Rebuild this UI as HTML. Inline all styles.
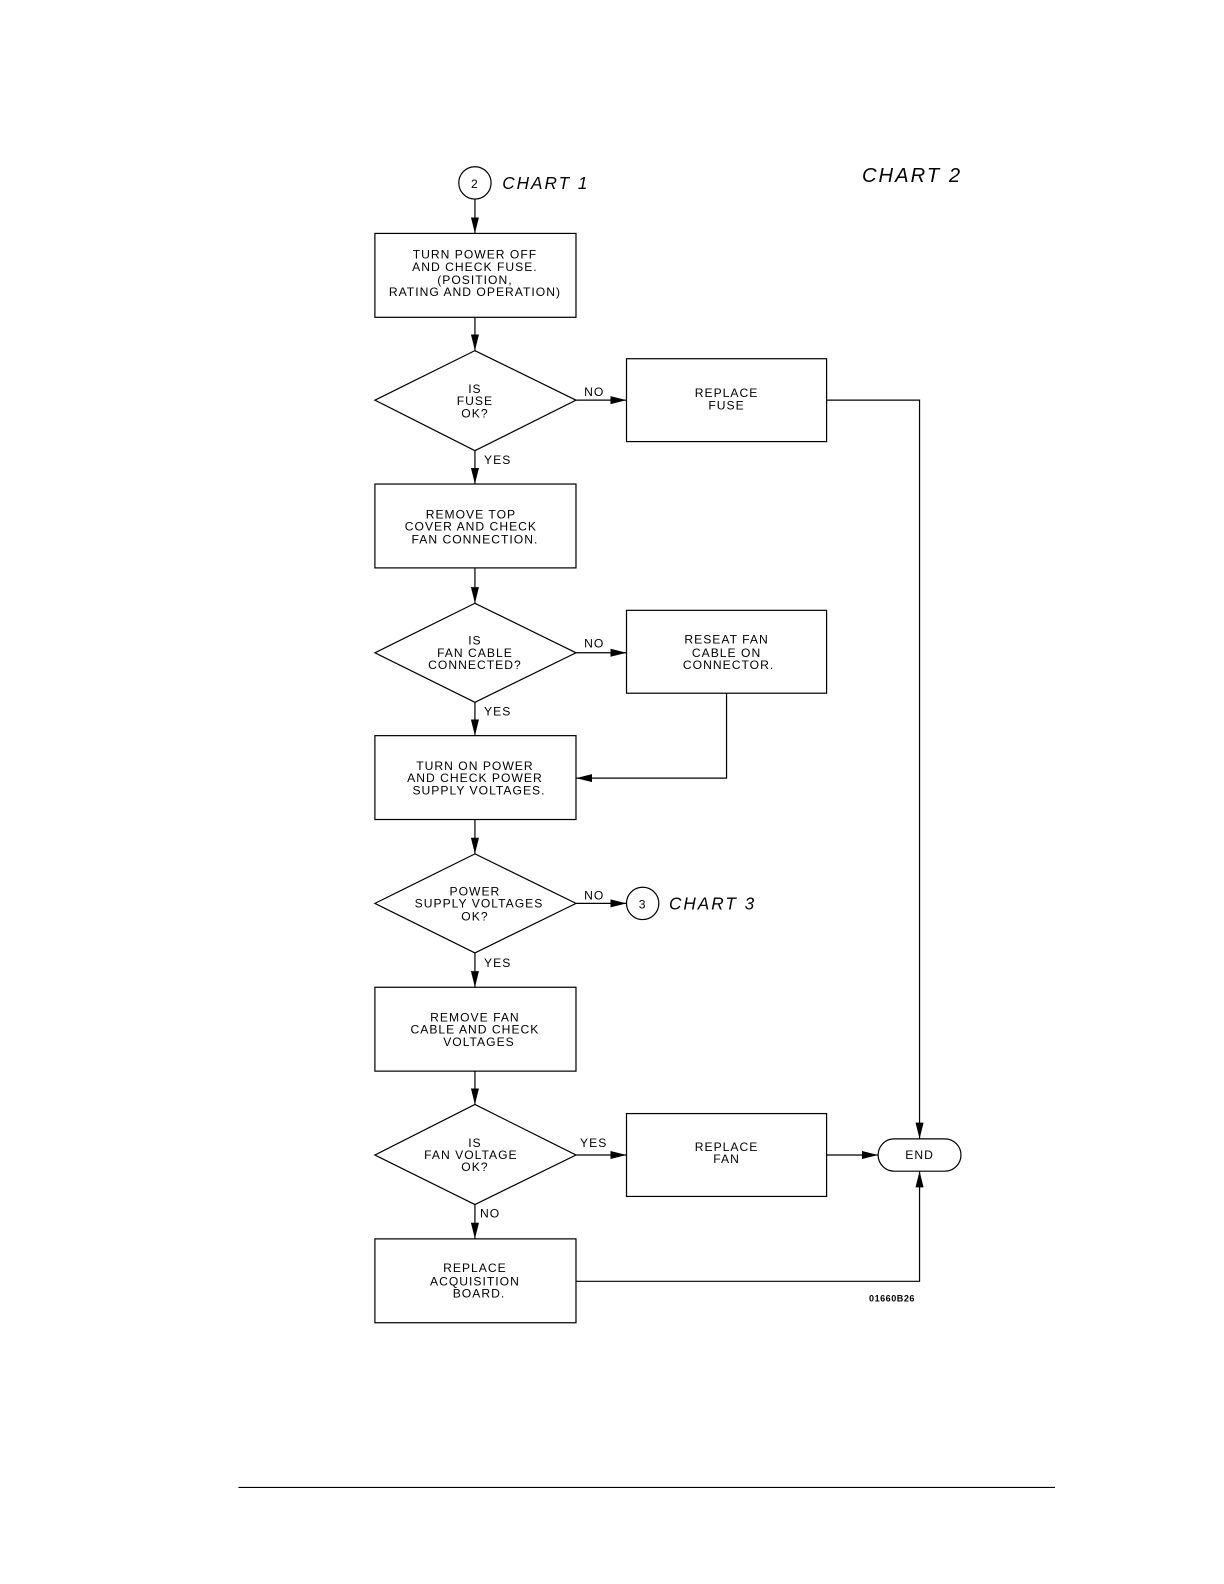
<!DOCTYPE html>
<html><head><meta charset="utf-8"><style>
html,body{margin:0;padding:0;background:#fff;width:1224px;height:1584px;overflow:hidden}
svg{display:block}
svg text{font-family:"Liberation Sans",sans-serif;fill:#000}
.t{font-size:12px;letter-spacing:1px;text-anchor:middle}
.l{font-size:12px;letter-spacing:1px}
.i{font-style:italic;font-size:17px;letter-spacing:2px}
</style></head><body>
<svg width="1224" height="1584" viewBox="0 0 1224 1584" xmlns="http://www.w3.org/2000/svg">
<defs><marker id="a" markerWidth="16" markerHeight="8" refX="16" refY="4" orient="auto" markerUnits="userSpaceOnUse"><path d="M0,0 L16,4 L0,8 z" fill="#000"/></marker></defs>
<g transform="scale(1.0105)">
<g stroke="#000" stroke-width="1.2" fill="none">
<circle cx="470" cy="181" r="16"/>
<line x1="470" y1="197" x2="470" y2="231" marker-end="url(#a)"/>
<rect x="371" y="231" width="199" height="83"/>
<line x1="470" y1="314" x2="470" y2="347" marker-end="url(#a)"/>
<polygon points="371,396 470,347 570,396 470,446"/>
<line x1="570" y1="396" x2="620" y2="396" marker-end="url(#a)"/>
<rect x="620" y="355" width="198" height="82"/>
<polyline points="818,396 910,396 910,1127" marker-end="url(#a)"/>
<line x1="470" y1="446" x2="470" y2="479" marker-end="url(#a)"/>
<rect x="371" y="479" width="199" height="83"/>
<line x1="470" y1="562" x2="470" y2="597" marker-end="url(#a)"/>
<polygon points="371,646 470,597 570,646 470,695"/>
<line x1="570" y1="646" x2="620" y2="646" marker-end="url(#a)"/>
<rect x="620" y="604" width="198" height="82"/>
<polyline points="719,686 719,770 570,770" marker-end="url(#a)"/>
<line x1="470" y1="695" x2="470" y2="728" marker-end="url(#a)"/>
<rect x="371" y="728" width="199" height="83"/>
<line x1="470" y1="811" x2="470" y2="845" marker-end="url(#a)"/>
<polygon points="371,894 470,845 570,894 470,943"/>
<line x1="570" y1="894" x2="620" y2="894" marker-end="url(#a)"/>
<circle cx="636" cy="894" r="16"/>
<line x1="470" y1="943" x2="470" y2="977" marker-end="url(#a)"/>
<rect x="371" y="977" width="199" height="83"/>
<line x1="470" y1="1060" x2="470" y2="1093" marker-end="url(#a)"/>
<polygon points="371,1143 470,1093 570,1143 470,1192"/>
<line x1="570" y1="1143" x2="620" y2="1143" marker-end="url(#a)"/>
<rect x="620" y="1102" width="198" height="82"/>
<line x1="818" y1="1143" x2="869" y2="1143" marker-end="url(#a)"/>
<rect x="869" y="1127" width="82" height="32" rx="16"/>
<line x1="470" y1="1192" x2="470" y2="1226" marker-end="url(#a)"/>
<rect x="371" y="1226" width="199" height="83"/>
<polyline points="570,1268 910,1268 910,1159" marker-end="url(#a)"/>
<line x1="236" y1="1472" x2="1044" y2="1472"/>
</g>
<text class="t" x="470" y="186">2</text>
<text class="i" x="497" y="187">CHART 1</text>
<text class="i" x="853" y="180" style="font-size:20px">CHART 2</text>
<text class="t" x="470" y="256">TURN POWER OFF</text>
<text class="t" x="470" y="268">AND CHECK FUSE.</text>
<text class="t" x="470" y="281">(POSITION,</text>
<text class="t" x="470" y="293">RATING AND OPERATION)</text>
<text class="t" x="470" y="389">IS</text>
<text class="t" x="470" y="401">FUSE</text>
<text class="t" x="470" y="413">OK?</text>
<text class="l" x="578" y="392">NO</text>
<text class="t" x="719" y="393">REPLACE</text>
<text class="t" x="719" y="405">FUSE</text>
<text class="l" x="479" y="459">YES</text>
<text class="t" x="466" y="513">REMOVE TOP</text>
<text class="t" x="466" y="525">COVER AND CHECK</text>
<text class="t" x="470" y="538">FAN CONNECTION.</text>
<text class="t" x="470" y="638">IS</text>
<text class="t" x="470" y="650">FAN CABLE</text>
<text class="t" x="470" y="662">CONNECTED?</text>
<text class="l" x="578" y="641">NO</text>
<text class="t" x="719" y="637">RESEAT FAN</text>
<text class="t" x="719" y="650">CABLE ON</text>
<text class="t" x="721" y="662">CONNECTOR.</text>
<text class="l" x="479" y="708">YES</text>
<text class="t" x="470" y="762">TURN ON POWER</text>
<text class="t" x="470" y="774">AND CHECK POWER</text>
<text class="t" x="474" y="786">SUPPLY VOLTAGES.</text>
<text class="t" x="470" y="886">POWER</text>
<text class="t" x="474" y="898">SUPPLY VOLTAGES</text>
<text class="t" x="470" y="911">OK?</text>
<text class="l" x="578" y="890">NO</text>
<text class="t" x="636" y="899">3</text>
<text class="i" x="662" y="900">CHART 3</text>
<text class="l" x="479" y="957">YES</text>
<text class="t" x="470" y="1011">REMOVE FAN</text>
<text class="t" x="470" y="1023">CABLE AND CHECK</text>
<text class="t" x="474" y="1035">VOLTAGES</text>
<text class="t" x="470" y="1135">IS</text>
<text class="t" x="466" y="1147">FAN VOLTAGE</text>
<text class="t" x="470" y="1159">OK?</text>
<text class="l" x="574" y="1135">YES</text>
<text class="t" x="719" y="1139">REPLACE</text>
<text class="t" x="719" y="1151">FAN</text>
<text class="t" x="910" y="1147">END</text>
<text class="l" x="475" y="1205">NO</text>
<text class="t" x="470" y="1259">REPLACE</text>
<text class="t" x="470" y="1272">ACQUISITION</text>
<text class="t" x="474" y="1284">BOARD.</text>
<text x="860" y="1288" style="font-size:9px;font-weight:bold;letter-spacing:0.5px">01660B26</text>
</g>
</svg>
</body></html>
